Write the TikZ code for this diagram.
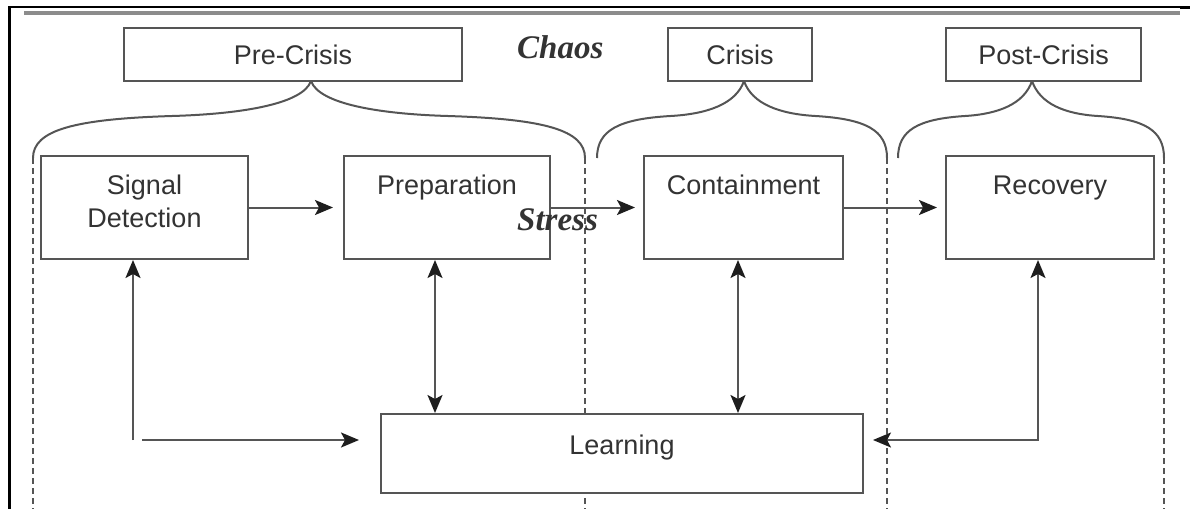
\documentclass[tikz,border=0pt]{standalone}
\usepackage{fontspec}
\setmainfont{Liberation Sans}
\newfontfamily\emphserif{Liberation Serif}
\usetikzlibrary{arrows.meta,calc}
\definecolor{linec}{HTML}{555555}
\definecolor{textc}{HTML}{333333}
\definecolor{tipc}{HTML}{1E1E1E}
\definecolor{rulegray}{HTML}{8C8C8C}
\newcommand\phasebrace[3]{%
  \pgfmathsetmacro\bL{#2-#1}\pgfmathsetmacro\bR{#3-#2}%
  \draw[bracestyle] (#1,158) .. controls (#1,130) and ({#1+0.15*\bL},119) .. ({#1+0.5*\bL},116)
    .. controls ({#2-0.25*\bL},114) and ({#2-8},104) .. (#2,81)
    .. controls ({#2+8},104) and ({#2+0.25*\bR},114) .. ({#2+0.5*\bR},116)
    .. controls ({#3-0.15*\bR},119) and (#3,130) .. (#3,158);}
\begin{document}
\begin{tikzpicture}[x=1pt,y=-1pt,
  box/.style={draw=linec, line width=2pt, fill=white, inner sep=0pt, anchor=north west,
    font=\fontsize{27}{33}\selectfont, text=textc},
  phasebox/.style={box, minimum height=53pt},
  stagebox/.style={box, text height=38pt, text depth=65pt},
  bracestyle/.style={draw=linec, line width=2pt},
  divider/.style={draw=linec, line width=1.8pt, dash pattern=on 6pt off 4pt},
  arr/.style={draw=linec, line width=2pt, -{Stealth[length=18pt,width=15pt,inset=4pt,color=tipc]}},
  dbl/.style={draw=linec, line width=2pt, {Stealth[length=18pt,width=15pt,inset=4pt,color=tipc]}-{Stealth[length=18pt,width=15pt,inset=4pt,color=tipc]}},
  accent/.style={font=\emphserif\bfseries\itshape\fontsize{33}{36}\selectfont, text=textc, inner sep=0pt, anchor=base west}
]
\useasboundingbox (0,0) rectangle (1190,509);
% frame
\draw[black, line width=3pt] (9,6) -- (9,509);
\draw[black, line width=1.5pt] (9,7) -- (1180,7);
\draw[black, line width=3pt] (1180,7.5) -- (1190,7.5);
\draw[rulegray, line width=4pt] (24,12.5) -- (1180,12.5);
% phase dividers
\draw[divider] (33,158) -- (33,509);
\draw[divider] (585,158) -- (585,509);
\draw[divider] (887,158) -- (887,509);
\draw[divider] (1164,158) -- (1164,509);
% braces
\phasebrace{33}{311}{585}
\phasebrace{597}{744}{887}
\phasebrace{898}{1032}{1164}
% phase boxes
\node[phasebox, minimum width=338pt] (pre) at (123,27) {Pre-Crisis};
\node[phasebox, minimum width=144pt] (crisis) at (667,27) {Crisis};
\node[phasebox, minimum width=195pt] (post) at (945,27) {Post-Crisis};
% stage boxes
\node[stagebox, minimum width=207pt] (sd) at (40,155) {\parbox[t]{200pt}{\centering Signal\\Detection}};
\node[stagebox, minimum width=206pt] (prep) at (343,155) {Preparation};
\node[stagebox, minimum width=199pt] (cont) at (643,155) {Containment};
\node[stagebox, minimum width=208pt] (rec) at (945,155) {Recovery};
\node[box, minimum width=482pt, text height=40pt, text depth=39pt] (learn) at (380,413) {Learning};
% coordinates
\coordinate (c1) at (133,440);
\coordinate (c2) at (1038,440);
\coordinate (pa) at (435,300);
\coordinate (ca) at (738,300);
% connectors
\draw[arr, shorten >=10pt] (sd.east) -- (prep.west);
\draw[arr, shorten >=8pt] (prep.east) -- (cont.west);
\draw[arr, shorten >=8pt] (cont.east) -- (rec.west);
\draw[dbl] (prep.south -| pa) -- (learn.north -| pa);
\draw[dbl] (cont.south -| ca) -- (learn.north -| ca);
\draw[arr] (c1) -- (c1 |- sd.south);
\draw[arr, shorten <=9pt, shorten >=21pt] (c1) -- (learn.west |- c1);
\draw[dbl, shorten <=9pt] (learn.east |- c2) -- (c2) -- (c2 |- rec.south);
% labels
\node[accent] (chaos) at (517,58) {Chaos};
\node[accent] (stress) at (517,230) {Stress};
\end{tikzpicture}
\end{document}
